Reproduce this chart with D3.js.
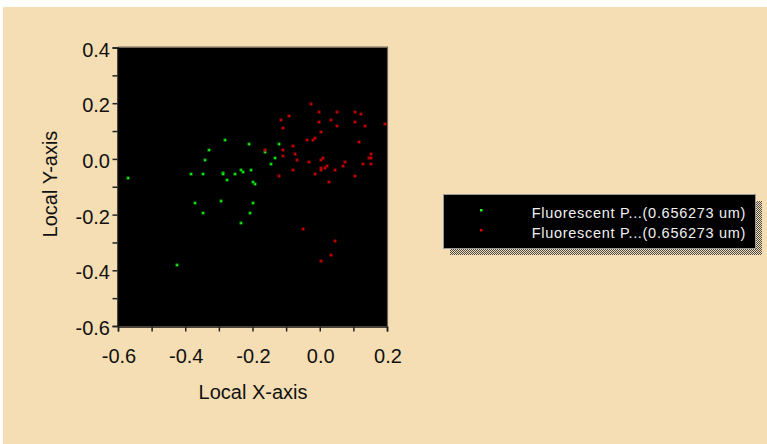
<!DOCTYPE html>
<html>
<head>
<meta charset="utf-8">
<script src="https://cdn.jsdelivr.net/npm/d3@7"></script>
<style>
  html, body { margin: 0; padding: 0; background: #ffffff; }
  svg { display: block; }
</style>
</head>
<body>
<svg id="chart" width="767" height="444"></svg>
<script>
// ---- Data ----
const seriesNames = ["Fluorescent P...(0.656273 um)", "Fluorescent P...(0.656273 um)"];
const greenX = [-0.569, -0.283, -0.330, -0.342, -0.211, -0.384, -0.348, -0.289, -0.289, -0.277, -0.253, -0.235, -0.229, -0.205,
  -0.122, -0.164, -0.134, -0.146, -0.199, -0.193, -0.372, -0.348, -0.295, -0.235, -0.206, -0.426, -0.199];
const greenY = [-0.069, 0.067, 0.031, -0.005, 0.053, -0.055, -0.055, -0.049, -0.056, -0.077, -0.055, -0.041, -0.048, -0.041,
  0.053, 0.024, 0.003, -0.019, -0.084, -0.091, -0.157, -0.193, -0.150, -0.229, -0.193, -0.380, -0.157];
const redX = [-0.164, -0.027, -0.003, 0.051, 0.104, 0.122, -0.116, -0.092, -0.003, 0.033, 0.104, -0.110, 0.051, 0.134, 0.195,
  0.003, -0.039, -0.021, -0.015, 0.116, -0.080, -0.110, -0.074, -0.110, 0.153, -0.068, 0.009, 0.003, 0.147, 0.153,
  -0.033, 0.076, 0.129, 0.153, 0.021, 0.015, 0.003, 0.003, 0.070, -0.080, 0.046, -0.015, -0.122, 0.104, 0.027,
  -0.051, 0.046, 0.033, 0.003];
const redY = [0.031, 0.197, 0.168, 0.168, 0.168, 0.161, 0.139, 0.154, 0.132, 0.139, 0.132, 0.110, 0.118, 0.118, 0.125,
  0.096, 0.067, 0.067, 0.074, 0.060, 0.046, 0.031, 0.017, 0.010, 0.017, -0.005, 0.003, -0.005, 0.003, 0.003,
  -0.012, -0.012, -0.019, -0.019, -0.026, -0.033, -0.033, -0.041, -0.026, -0.041, -0.041, -0.055, -0.062, -0.062, -0.084,
  -0.250, -0.294, -0.344, -0.366];
const xTicks = [-0.6, -0.5, -0.4, -0.3, -0.2, -0.1, 0.0, 0.1, 0.2];
const xTickLabels = [-0.6, -0.4, -0.2, 0.0, 0.2];
const yTicks = [0.4, 0.3, 0.2, 0.1, 0.0, -0.1, -0.2, -0.3, -0.4, -0.5, -0.6];
const yTickLabels = [0.4, 0.2, 0.0, -0.2, -0.4, -0.6];

// ---- Drawing ----
const svg = d3.select("#chart");
const bg = "#F5DEB3";
const font = "'Liberation Sans', Arial, sans-serif";
const fmt = d => d3.format(".1f")(d).replace("\u2212", "-");

svg.append("rect").attr("x", 3).attr("y", 7).attr("width", 764).attr("height", 437).attr("fill", bg);

const x = d3.scaleLinear().domain([-0.6, 0.2]).range([118, 387]);
const y = d3.scaleLinear().domain([-0.6, 0.4]).range([326, 47.5]);

// plot area
svg.append("rect").attr("x", x(-0.6)).attr("y", y(0.4))
  .attr("width", x(0.2) - x(-0.6)).attr("height", y(-0.6) - y(0.4)).attr("fill", "#000");
// shaded top/right border
svg.append("path")
  .attr("d", `M${x(-0.6)},${y(0.4) - 0.5}H${x(0.2) + 0.5}V${y(-0.6)}`)
  .attr("fill", "none").attr("stroke", "#6e6458").attr("stroke-width", 1.2);

// axes
const yAxis = d3.axisLeft(y).tickValues(yTicks).tickSize(5).tickFormat("");
const gy = svg.append("g").attr("transform", `translate(${x(-0.6) - 0.5},0)`).call(yAxis);
const xAxis = d3.axisBottom(x).tickValues(xTicks).tickSize(5).tickFormat("");
const gx = svg.append("g").attr("transform", `translate(0,${y(-0.6) + 0.5})`).call(xAxis);
[gx, gy].forEach(g => {
  g.select(".domain").attr("stroke", "#111").attr("stroke-width", 1.5);
  g.selectAll(".tick line").attr("stroke", "#222").attr("stroke-width", 1.5);
});

// tick labels
svg.selectAll(".ylab").data(yTickLabels).enter().append("text")
  .attr("x", 110).attr("y", d => y(d) + 9)
  .attr("text-anchor", "end").attr("font-family", font).attr("font-size", 20).attr("fill", "#111")
  .text(fmt);
svg.selectAll(".xlab").data(xTickLabels).enter().append("text")
  .attr("x", d => x(d) + 1).attr("y", 363)
  .attr("text-anchor", "middle").attr("font-family", font).attr("font-size", 20).attr("fill", "#111")
  .text(fmt);

// axis titles
svg.append("text").attr("x", 253).attr("y", 399).attr("text-anchor", "middle")
  .attr("font-family", font).attr("font-size", 20).attr("fill", "#111").text("Local X-axis");
svg.append("text").attr("transform", "translate(57,184) rotate(-90)").attr("text-anchor", "middle")
  .attr("font-family", font).attr("font-size", 20).attr("fill", "#111").text("Local Y-axis");

// points
function drawPts(xs, ys, outer, inner) {
  const g = svg.append("g");
  xs.forEach((xv, i) => {
    g.append("rect").attr("x", Math.round(x(xv)) - 1.5).attr("y", Math.round(y(ys[i])) - 1.5)
      .attr("width", 3).attr("height", 3).attr("fill", outer);
    g.append("rect").attr("x", Math.round(x(xv)) - 0.5).attr("y", Math.round(y(ys[i])) - 0.5)
      .attr("width", 1.5).attr("height", 1.5).attr("fill", inner);
  });
}
drawPts(greenX, greenY, "#00a800", "#20ff20");
drawPts(redX, redY, "#a00000", "#e00000");

// legend
const defs = svg.append("defs");
const pat = defs.append("pattern").attr("id", "dither").attr("width", 2).attr("height", 2)
  .attr("patternUnits", "userSpaceOnUse");
pat.append("rect").attr("width", 2).attr("height", 2).attr("fill", bg);
pat.append("rect").attr("width", 1).attr("height", 1).attr("fill", "#4a4a4a");
pat.append("rect").attr("x", 1).attr("y", 1).attr("width", 1).attr("height", 1).attr("fill", "#4a4a4a");

const lg = { x: 443, y: 194, w: 312, h: 54, sh: 7 };
svg.append("rect").attr("x", lg.x + lg.sh).attr("y", lg.y + lg.sh).attr("width", lg.w).attr("height", lg.h)
  .attr("fill", "url(#dither)");
svg.append("rect").attr("x", lg.x + 0.5).attr("y", lg.y + 0.5).attr("width", lg.w).attr("height", lg.h)
  .attr("fill", "#000").attr("stroke", "#9a9a9a").attr("stroke-width", 1);
const legColors = [["#00a800", "#20ff20"], ["#a00000", "#e00000"]];
seriesNames.forEach((name, i) => {
  const cy = 210 + i * 20;
  svg.append("rect").attr("x", 480).attr("y", cy - 1).attr("width", 2.5).attr("height", 2.5).attr("fill", legColors[i][1]);
  svg.append("text").attr("x", 746).attr("y", cy + 7.5).attr("text-anchor", "end")
    .attr("font-family", font).attr("font-size", 14.5).attr("letter-spacing", 0.7)
    .attr("fill", "#f0f0f0").text(name);
});
</script>
</body>
</html>
